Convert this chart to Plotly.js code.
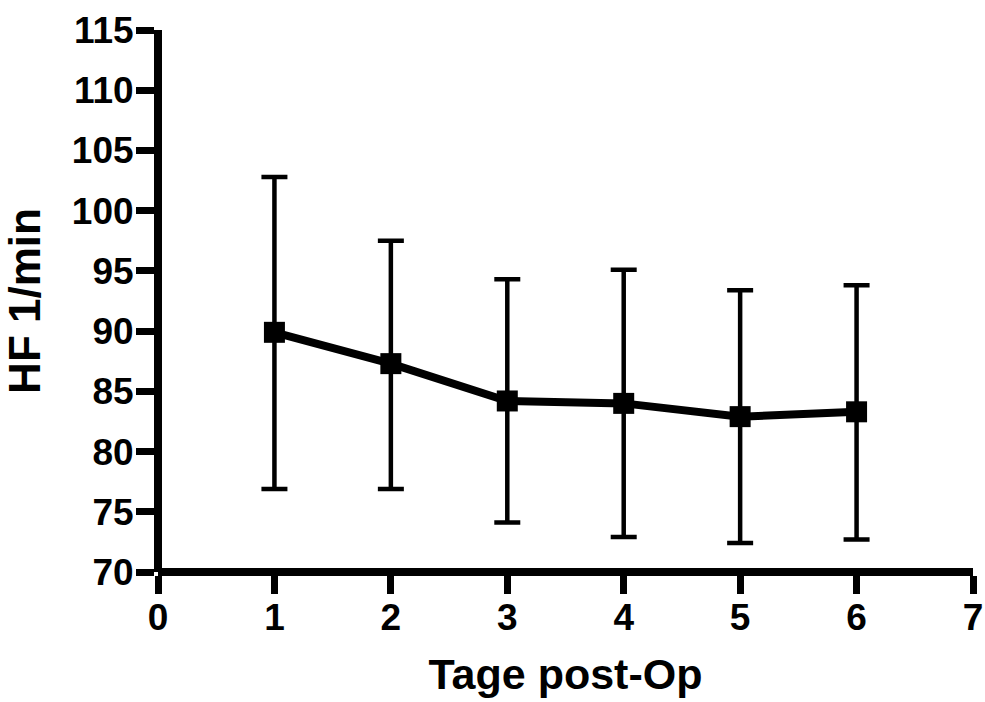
<!DOCTYPE html>
<html>
<head>
<meta charset="utf-8">
<script src="https://cdn.plot.ly/plotly-3.0.1.min.js"></script>
<style>html,body{margin:0;padding:0;background:#fff;}#chart{width:985px;height:702px;}</style>
</head>
<body>
<div id="chart"></div>
<script>
var days = [1, 2, 3, 4, 5, 6];
var hrMean = [89.9, 87.3, 84.2, 84.0, 82.9, 83.3];
var errPlus = [12.9, 10.2, 10.1, 11.1, 10.5, 10.5];
var errMinus = [13.0, 10.4, 10.1, 11.1, 10.5, 10.6];
var xTicks = [0, 1, 2, 3, 4, 5, 6, 7];
var yTicks = [70, 75, 80, 85, 90, 95, 100, 105, 110, 115];

var FONT = 'Arial, "Liberation Sans", sans-serif';

var trace = {
  x: days,
  y: hrMean,
  type: 'scatter',
  mode: 'lines+markers',
  line: {color: '#000', width: 8},
  marker: {symbol: 'square', size: 21, color: '#000'},
  error_y: {
    type: 'data',
    symmetric: false,
    array: errPlus,
    arrayminus: errMinus,
    color: '#000',
    thickness: 4.5,
    width: 13
  },
  showlegend: false,
  hoverinfo: 'none'
};

var layout = {
  width: 985,
  height: 702,
  margin: {l: 157.5, r: 12.3, t: 29.5, b: 129.7, pad: 0},
  paper_bgcolor: '#fff',
  plot_bgcolor: '#fff',
  font: {family: FONT, color: '#000'},
  xaxis: {
    range: [0, 7],
    anchor: 'free',
    position: 0,
    tickmode: 'array',
    tickvals: xTicks,
    ticktext: xTicks.map(String),
    showgrid: false,
    zeroline: false,
    showline: true,
    linecolor: '#000',
    linewidth: 8,
    ticks: 'outside',
    ticklen: 18,
    tickwidth: 7,
    tickcolor: '#000',
    ticklabelstandoff: -8,
    tickfont: {family: FONT, size: 37, color: '#000', weight: 'bold'},
    title: {text: '<b>Tage post-Op</b>', font: {family: FONT, size: 43, color: '#000'}, standoff: 20},
    automargin: false
  },
  yaxis: {
    range: [70, 115],
    anchor: 'free',
    position: 0,
    tickmode: 'array',
    tickvals: yTicks,
    ticktext: yTicks.map(String),
    showgrid: false,
    zeroline: false,
    showline: true,
    linecolor: '#000',
    linewidth: 8,
    ticks: 'outside',
    ticklen: 18,
    tickwidth: 7,
    tickcolor: '#000',
    ticklabelstandoff: -5,
    tickfont: {family: FONT, size: 37, color: '#000', weight: 'bold'},
    title: {text: '<b>HF 1/min</b>', font: {family: FONT, size: 44, color: '#000'}, standoff: 20},
    automargin: false
  }
};

Plotly.newPlot('chart', [trace], layout, {displayModeBar: false, staticPlot: true});
</script>
</body>
</html>
